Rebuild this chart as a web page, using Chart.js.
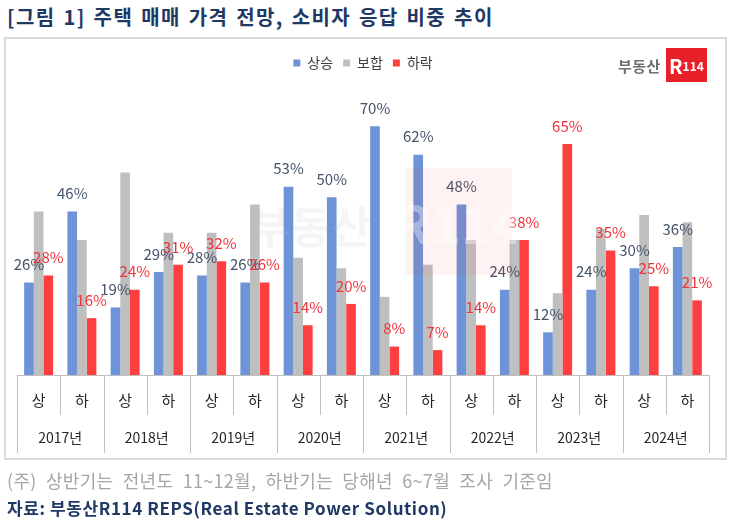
<!DOCTYPE html>
<html>
<head>
<meta charset="utf-8">
<script src="https://cdn.jsdelivr.net/npm/chart.js@4/dist/chart.umd.min.js"></script>
<style>
  body { margin: 0; background: #fff; font-family: "Noto Sans CJK KR", "Noto Sans", sans-serif; }
  #wrap { position: relative; width: 730px; height: 521px; overflow: hidden; }
  #title { position: absolute; left: 7px; top: 2px; font-size: 20px; font-weight: bold; color: #1f3864; letter-spacing: 1.4px; word-spacing: 2px; white-space: nowrap; }
  #frame { position: absolute; left: 4px; top: 37px; width: 719px; height: 419px; border: 2px solid #d9d9d9; }
  #cv { position: absolute; left: 0; top: 0; }
  #logo { position: absolute; left: 618px; top: 48px; height: 34px; display: flex; align-items: center; }
  #logo .t { color: #6f6f6f; font-weight: bold; font-size: 15px; margin-right: 5px; letter-spacing: 0.5px; }
  #logo .b { background: #e8202a; width: 41px; height: 34px; color: #fff; font-weight: bold; display: flex; align-items: center; justify-content: center; }
  #wm { position: absolute; left: 250px; top: 168px; width: 270px; height: 108px; pointer-events: none; }
  #wm .t { position: absolute; left: 0; top: 25px; font-size: 44px; font-weight: bold; color: rgba(190,190,190,0.15); }
  #wm .b { position: absolute; left: 155px; top: 0; width: 107px; height: 107px; background: rgba(240,70,70,0.07); color: rgba(255,255,255,0.35); font-size: 52px; font-weight: bold; display: flex; align-items: center; justify-content: center; }
  #note { position: absolute; left: 7px; top: 467px; font-size: 18px; color: #a6a6a6; word-spacing: 5px; letter-spacing: 0.3px; white-space: nowrap; }
  #src { position: absolute; left: 7px; top: 495px; font-size: 17px; font-weight: bold; color: #1f3864; letter-spacing: 0.6px; white-space: nowrap; }
</style>
</head>
<body>
<div id="wrap">
  <div id="title">[그림 1] 주택 매매 가격 전망, 소비자 응답 비중 추이</div>
  <div id="frame"></div>
  <canvas id="cv" width="730" height="521"></canvas>
  <div id="logo"><span class="t">부동산</span><span class="b"><span style="font-size:20px">R</span><span style="font-size:12px">114</span></span></div>
  <div id="wm"><span class="t">부동산</span><span class="b">R114</span></div>
  <div id="note">(주) 상반기는 전년도 11~12월, 하반기는 당해년 6~7월 조사 기준임</div>
  <div id="src">자료: 부동산R114 REPS(Real Estate Power Solution)</div>
</div>
<script>
// 데이터
const years = ['2017년', '2018년', '2019년', '2020년', '2021년', '2022년', '2023년', '2024년'];
const halves = ['상', '하', '상', '하', '상', '하', '상', '하', '상', '하', '상', '하', '상', '하', '상', '하'];
const sangseung = [26, 46, 19, 29, 28, 26, 53, 50, 70, 62, 48, 24, 12, 24, 30, 36];
const bohap     = [46, 38, 57, 40, 40, 48, 33, 30, 22, 31, 38, 38, 23, 41, 45, 43];
const harak     = [28, 16, 24, 31, 32, 26, 14, 20,  8,  7, 14, 38, 65, 35, 25, 21];

const FONT = '"Noto Sans CJK KR", "Noto Sans", sans-serif';

// 막대 위 값 표시 (상승, 하락만)
const valueLabels = {
  id: 'valueLabels',
  afterDatasetsDraw(chart) {
    const ctx = chart.ctx;
    ctx.save();
    ctx.font = '15px ' + FONT;
    ctx.textAlign = 'center';
    ctx.textBaseline = 'middle';
    [0, 2].forEach(di => {
      const ds = chart.data.datasets[di];
      ctx.fillStyle = di === 0 ? '#44546a' : '#f0323a';
      chart.getDatasetMeta(di).data.forEach((bar, i) => {
        ctx.fillText(ds.data[i] + '%', bar.x, bar.y - 18);
      });
    });
    ctx.restore();
  }
};

// 2단 x축 (상/하 + 연도)
const twoLevelAxis = {
  id: 'twoLevelAxis',
  afterDraw(chart) {
    const ctx = chart.ctx;
    const x = chart.scales.x;
    const bottom = chart.chartArea.bottom;
    const half = (x.getPixelForValue(1) - x.getPixelForValue(0)) / 2;
    ctx.save();
    ctx.strokeStyle = '#bfbfbf';
    ctx.lineWidth = 1;
    ctx.beginPath();
    ctx.moveTo(x.getPixelForValue(0) - half, bottom + 0.5);
    ctx.lineTo(x.getPixelForValue(halves.length - 1) + half, bottom + 0.5);
    for (let i = 0; i <= halves.length; i++) {
      const px = Math.round(x.getPixelForValue(i) - half) + 0.5;
      ctx.moveTo(px, bottom);
      ctx.lineTo(px, bottom + (i % 2 === 0 ? 78 : 40));
    }
    ctx.stroke();
    ctx.fillStyle = '#262626';
    ctx.textAlign = 'center';
    ctx.textBaseline = 'middle';
    ctx.font = '15px ' + FONT;
    halves.forEach((h, i) => ctx.fillText(x.getLabelForValue(i), x.getPixelForValue(i), bottom + 25));
    ctx.font = '14px ' + FONT;
    years.forEach((y, j) => {
      const cx = (x.getPixelForValue(j * 2) + x.getPixelForValue(j * 2 + 1)) / 2;
      ctx.fillText(y, cx, bottom + 63);
    });
    ctx.restore();
  }
};

new Chart(document.getElementById('cv'), {
  type: 'bar',
  data: {
    labels: halves,
    datasets: [
      { label: '상승', data: sangseung, backgroundColor: '#6e93d6' },
      { label: '보합', data: bohap, backgroundColor: '#bfbfbf' },
      { label: '하락', data: harak, backgroundColor: '#ff3f3f' }
    ]
  },
  options: {
    responsive: false,
    animation: false,
    layout: { padding: { left: 17, right: 21, top: 46, bottom: 146 } },
    datasets: { bar: { categoryPercentage: 0.67, barPercentage: 1.0 } },
    scales: {
      x: { display: false },
      y: { display: false, min: 0, max: 83 }
    },
    plugins: {
      legend: {
        position: 'top',
        labels: { boxWidth: 7, boxHeight: 7, padding: 10, color: '#404040', font: { family: FONT, size: 14 } }
      },
      tooltip: { enabled: false }
    }
  },
  plugins: [valueLabels, twoLevelAxis]
});
</script>
</body>
</html>
